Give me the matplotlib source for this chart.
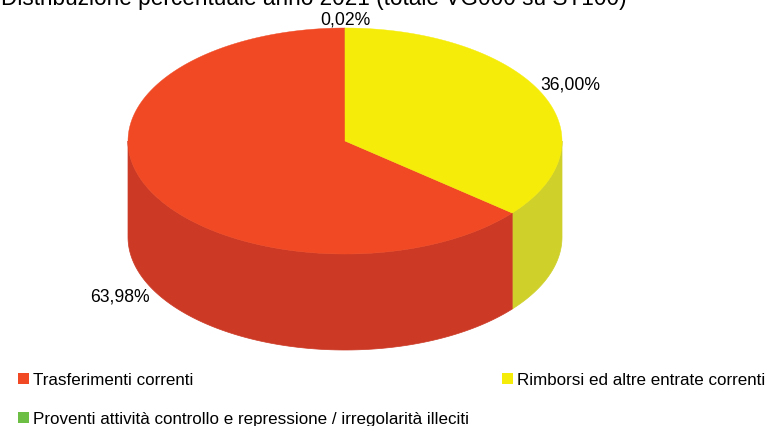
import numpy as np
import matplotlib
matplotlib.use("Agg")
import matplotlib.pyplot as plt
from matplotlib.patches import Polygon, Rectangle

plt.rcParams["font.family"] = ["Liberation Sans", "DejaVu Sans"]

TITLE = "Distribuzione percentuale anno 2021 (totale VG000 su ST100)"
# clockwise from the top; the tiny green slice closes the circle at the top
categories = ["Rimborsi ed altre entrate correnti",
              "Trasferimenti correnti",
              "Proventi attività controllo e repressione / irregolarità illeciti"]
values = [36.00, 63.98, 0.02]
value_labels = ["36,00%", "63,98%", "0,02%"]
top_colors = ["#F5EC0A", "#F04923", "#6DBE45"]
side_colors = ["#CFD02A", "#CC3A26", "#5AA03A"]

# pie geometry in pixels of the 769x427 picture
CX, CY = 345, 142
RX, RY = 217, 113
DEPTH = 96


def rim(start, end):
    """Ellipse points between two angles, clockwise from the top."""
    t = np.radians(np.linspace(start, end, max(int(abs(end - start) * 2), 2)))
    return CX + RX * np.sin(t), CY - RY * np.cos(t)


fig = plt.figure(figsize=(7.69, 4.27), dpi=100)
ax = fig.add_axes([0, 0, 1, 1])
ax.set_xlim(0, 769)
ax.set_ylim(427, 0)
ax.axis("off")

edges = np.concatenate([[0], np.cumsum(values) / sum(values) * 360])

# outer wall: only the part facing the viewer (90..270 degrees)
for start, end, col in zip(edges[:-1], edges[1:], side_colors):
    a, b = max(start, 90), min(end, 270)
    if a >= b:
        continue
    x, y = rim(a, b)
    pts = np.vstack([np.column_stack([x, y]),
                     np.column_stack([x[::-1], y[::-1] + DEPTH])])
    ax.add_patch(Polygon(pts, closed=True, fc=col, ec=col, lw=0.5, zorder=2))

# top face, last slice first so the sliver does not show as a green line
for start, end, col in list(zip(edges[:-1], edges[1:], top_colors))[::-1]:
    x, y = rim(start, end)
    pts = np.vstack([[CX, CY], np.column_stack([x, y])])
    ax.add_patch(Polygon(pts, closed=True, fc=col, ec=col, lw=0.3, zorder=3))

# the title is cut by the top edge in the reference too
ax.text(314, 5, TITLE, fontsize=16.3, ha="center", va="baseline", color="black")

label_pos = [(570.5, 85), (120, 297), (345.5, 20)]
for (lx, ly), txt in zip(label_pos, value_labels):
    ax.text(lx, ly, txt, fontsize=12.7, ha="center", va="center", color="black")

# legend
legend_pos = [(502, 379), (18, 379), (18, 418)]
for (lx, ly), name, col in zip(legend_pos, categories, top_colors):
    ax.add_patch(Rectangle((lx, ly - 5.5), 10.5, 11, fc=col, ec="none", zorder=3))
    ax.text(lx + 15, ly + 1.5, name, fontsize=12.25, ha="left", va="center", color="black")

fig.savefig("out.png", dpi=100)
